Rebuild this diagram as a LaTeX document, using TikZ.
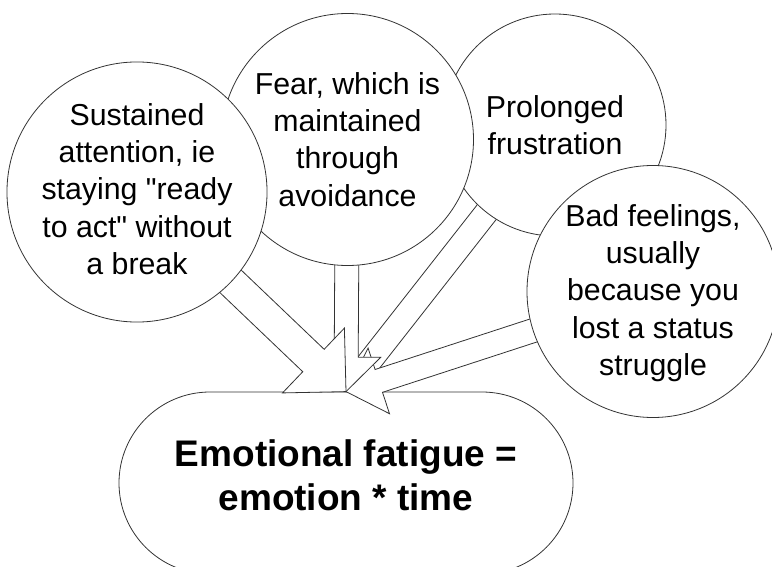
\documentclass[tikz,border=0pt]{standalone}
\usepackage{fontspec}
\setmainfont{Liberation Sans}[Ligatures=TeXOff]
\usetikzlibrary{calc}
\pgfdeclarelayer{base}
\pgfdeclarelayer{arrows}
\pgfsetlayers{base,arrows,main}

\tikzset{
  outline/.style={draw=black!80, line width=0.8pt, fill=white},
  bubble/.style={outline, circle, inner sep=0pt, align=center,
    font=\fontsize{30.3}{37.3}\selectfont},
  result/.style={outline, rectangle, rounded corners=91pt,
    minimum width=454pt, minimum height=182pt, inner sep=0pt, align=center,
    font=\fontsize{37}{44.8}\selectfont\bfseries},
  fatarrow/.style={outline, line join=miter},
}

% hollow block arrow: #1 from, #2 to, #3 shaft half width,
% #4 head half width, #5 head length
\newcommand\drawblockarrow[5]{%
  \coordinate (headbase) at ($(#2)!#5!(#1)$);
  \draw[fatarrow] ($(#1)!#3!90:(#2)$) -- ($(headbase)!#3!90:(#2)$)
    -- ($(headbase)!#4!90:(#2)$) -- (#2)
    -- ($(headbase)!#4!-90:(#2)$) -- ($(headbase)!#3!-90:(#2)$)
    -- ($(#1)!#3!-90:(#2)$) -- cycle;
}

\begin{document}
\begin{tikzpicture}[x=1pt,y=-1pt]
\useasboundingbox (0,0) rectangle (772,567);

\begin{pgfonlayer}{base}
  \node[result, text depth=16pt] (emo) at (346,483)
    {Emotional fatigue =\\emotion * time};
\end{pgfonlayer}

% the four causes
\node[bubble, minimum size=222pt] (frust) at (555,125) {Prolonged\\frustration};
\node[bubble, minimum size=252pt] (fear) at (347.5,139.5)
  {Fear, which is\\maintained\\through\\avoidance};
\node[bubble, minimum size=252pt, text depth=6pt] (attn) at (137,192)
  {Sustained\\attention, ie\\staying "ready\\to act" without\\a break};
\node[bubble, minimum size=252pt, text depth=3pt] (bad) at (653,291.5)
  {Bad feelings,\\usually\\because you\\lost a status\\struggle};

\coordinate (tip) at (emo.north);

\begin{pgfonlayer}{arrows}
  \drawblockarrow{frust.center}{tip}{12pt}{34.5pt}{34.5pt}
  \drawblockarrow{bad.center}{tip}{12pt}{34.5pt}{34.5pt}
  \drawblockarrow{fear.center}{tip}{12pt}{34.5pt}{34.5pt}
  \drawblockarrow{attn.center}{tip}{15.5pt}{44.8pt}{45pt}
\end{pgfonlayer}
\end{tikzpicture}
\end{document}
